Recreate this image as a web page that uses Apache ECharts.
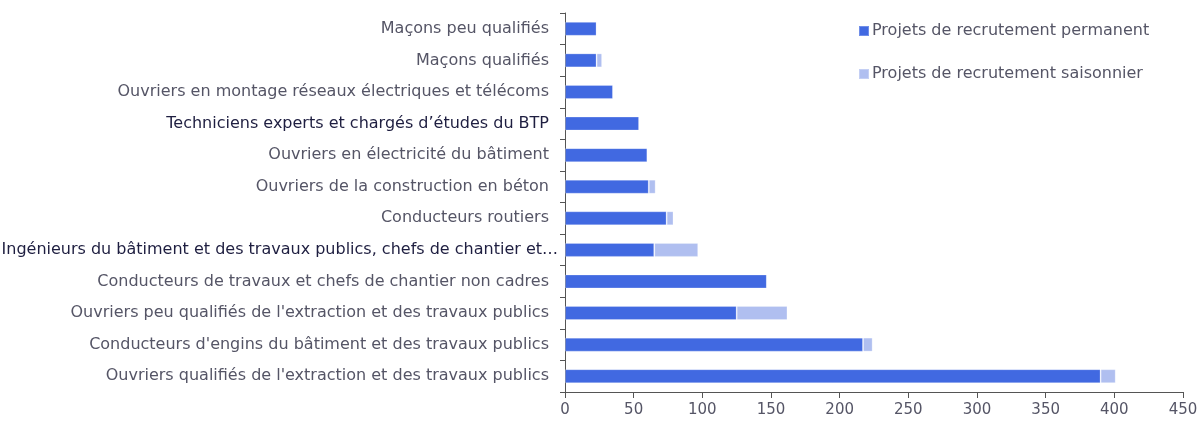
<!DOCTYPE html>
<html>
<head>
<meta charset="utf-8">
<script src="https://cdn.jsdelivr.net/npm/echarts@6/dist/echarts.min.js"></script>
<style>
  html, body { margin: 0; padding: 0; background: #fff; }
  #chart { width: 1200px; height: 424px; }
</style>
</head>
<body>
<div id="chart"></div>
<script>
// Métiers du BTP, du bas vers le haut de l'axe
const categories = [
  "Ouvriers qualifiés de l'extraction et des travaux publics",
  "Conducteurs d'engins du bâtiment et des travaux publics",
  "Ouvriers peu qualifiés de l'extraction et des travaux publics",
  "Conducteurs de travaux et chefs de chantier non cadres",
  "Ingénieurs du bâtiment et des travaux publics, chefs de chantier et…",
  "Conducteurs routiers",
  "Ouvriers de la construction en béton",
  "Ouvriers en électricité du bâtiment",
  "Techniciens experts et chargés d’études du BTP",
  "Ouvriers en montage réseaux électriques et télécoms",
  "Maçons qualifiés",
  "Maçons peu qualifiés"
];
const permanent = [390, 217, 125, 147, 65, 74, 61, 60, 54, 35, 23, 23];
const saisonnier = [11, 7, 37, 0, 32, 5, 5, 0, 0, 0, 4, 0];
const seriesNames = ["Projets de recrutement permanent", "Projets de recrutement saisonnier"];
const darkLabels = ["Techniciens experts et chargés d’études du BTP"];
const truncatedLabels = ["Ingénieurs du bâtiment et des travaux publics, chefs de chantier et…"];

const font = "'DejaVu Sans', sans-serif";
const chart = echarts.init(document.getElementById('chart'), null, { renderer: 'canvas' });

function labelStyle(v) {
  if (truncatedLabels.includes(v)) return '{e|' + v + '}';
  if (darkLabels.includes(v)) return '{d|' + v + '}';
  return '{n|' + v + '}';
}

chart.setOption({
  animation: false,
  textStyle: { fontFamily: font },
  legend: {
    orient: 'vertical',
    left: 853,
    top: 18,
    itemGap: 27,
    itemWidth: 10,
    itemHeight: 10,
    icon: 'rect',
    textStyle: { fontSize: 16, color: '#555566', fontFamily: font, padding: [0, 0, 0, -2] },
    data: seriesNames
  },
  grid: { left: 565, right: 17, top: 13, bottom: 32, containLabel: false, outerBoundsMode: 'none' },
  xAxis: {
    type: 'value',
    min: 0,
    max: 450,
    interval: 50,
    axisLine: { show: true, lineStyle: { color: '#555', width: 1 } },
    axisTick: { show: true, length: 6, lineStyle: { color: '#555' } },
    axisLabel: { fontSize: 15, color: '#555566', margin: 11, fontFamily: font },
    splitLine: { show: false }
  },
  yAxis: {
    type: 'category',
    data: categories,
    axisLine: { show: true, lineStyle: { color: '#555', width: 1 } },
    axisTick: { show: true, length: 5, lineStyle: { color: '#555' } },
    axisLabel: {
      fontSize: 16,
      margin: 16,
      fontFamily: font,
      formatter: labelStyle,
      rich: {
        n: { fontSize: 16, color: '#555566', fontFamily: font },
        d: { fontSize: 16, color: '#1e1e40', fontFamily: font },
        e: { fontSize: 16, color: '#1e1e40', fontFamily: font, padding: [0, -9, 0, 0] }
      }
    }
  },
  series: [
    {
      name: seriesNames[0],
      type: 'bar',
      stack: 'total',
      data: permanent,
      barWidth: 14,
      itemStyle: { color: '#4169E1', borderColor: 'rgba(255,255,255,0.25)', borderWidth: 1 }
    },
    {
      name: seriesNames[1],
      type: 'bar',
      stack: 'total',
      data: saisonnier,
      barWidth: 14,
      itemStyle: { color: '#B0BFF0', borderColor: 'rgba(255,255,255,0.25)', borderWidth: 1 }
    }
  ]
});
</script>
</body>
</html>
